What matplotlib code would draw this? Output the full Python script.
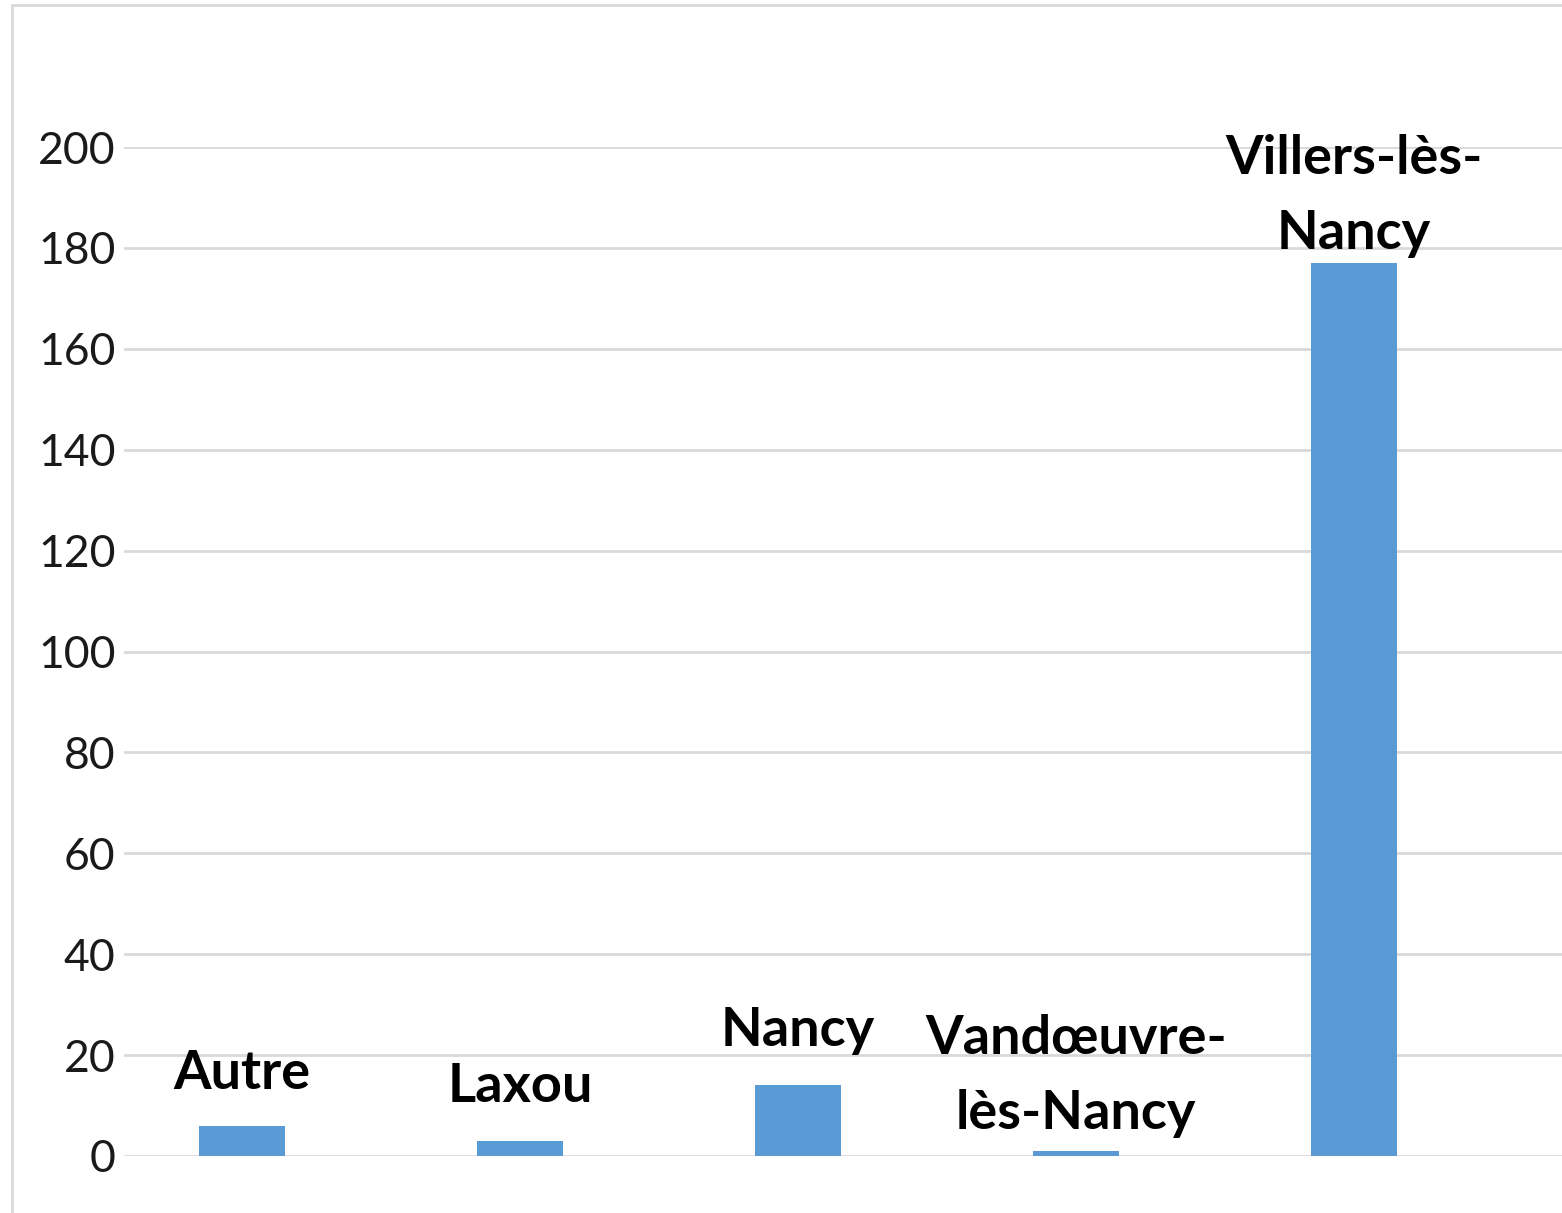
import matplotlib
matplotlib.use('Agg')
import matplotlib.pyplot as plt
from matplotlib.patches import Rectangle

# données
communes = ['Autre', 'Laxou', 'Nancy', 'Vandœuvre-\nlès-Nancy', 'Villers-lès-\nNancy']
effectifs = [6, 3, 14, 1, 177]
yticks = [0, 20, 40, 60, 80, 100, 120, 140, 160, 180, 200]

# décalage des étiquettes au-dessus des barres (unités de l'axe)
label_gap = [5.5, 6.0, 6.0, 2.6, 0.9]

W, H = 1562, 1213
fig = plt.figure(figsize=(W / 100, H / 100), dpi=100)
fig.patch.set_facecolor('white')

# cadre gris léger autour du graphique
fig.patches.append(Rectangle((12 / W, -0.1), 1.2, 1 - 5 / H + 0.1,
                             transform=fig.transFigure, fill=False,
                             edgecolor='#D9D9D9', linewidth=2))

left, right = 124, 1562
bottom, top = 1156, 147
ax = fig.add_axes([left / W, 1 - bottom / H, (right - left) / W, (bottom - top) / H])

x = list(range(len(communes)))
ax.bar(x, effectifs, width=0.31, color='#5B9BD5', zorder=3)

ax.set_xlim((left - 242) / 278, (right - 242) / 278)
ax.set_ylim(0, 200)
ax.set_yticks(yticks)
ax.set_yticklabels([str(v) for v in yticks], fontsize=32, fontfamily='Lato', color='#1a1a1a')
ax.tick_params(axis='y', length=0, pad=6)
ax.set_xticks([])
ax.grid(axis='y', color='#D9D9D9', linewidth=2, zorder=0)
for s in ax.spines.values():
    s.set_visible(False)

for xi, v, name, g in zip(x, effectifs, communes, label_gap):
    ax.text(xi, v + g, name, ha='center', va='bottom', fontsize=39,
            fontfamily='Lato', fontweight='bold', color='black',
            linespacing=1.65, clip_on=False, zorder=4)

fig.savefig('out.png', dpi=100)
